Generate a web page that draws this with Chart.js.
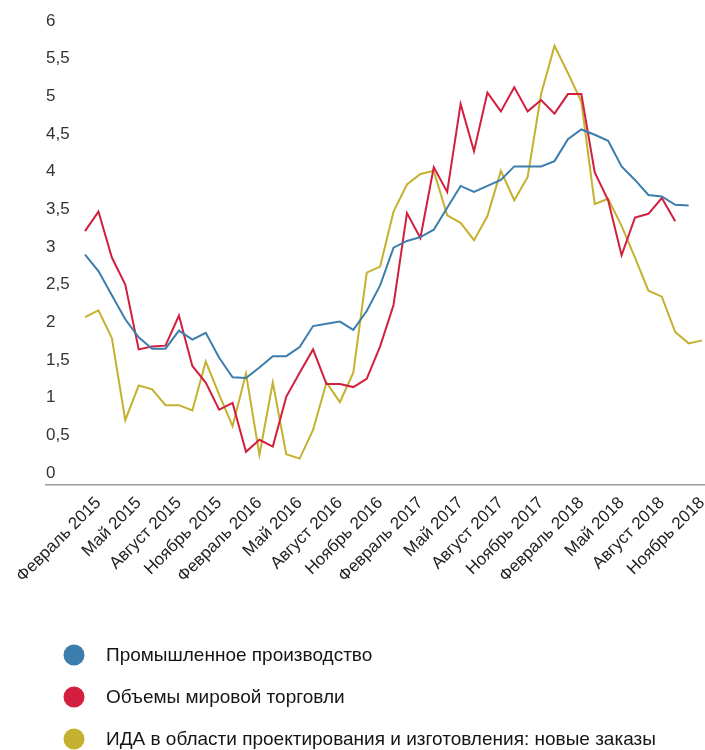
<!DOCTYPE html>
<html>
<head>
<meta charset="utf-8">
<script src="https://cdn.jsdelivr.net/npm/chart.js@4.4.1/dist/chart.umd.min.js"></script>
<style>
  html, body { margin: 0; padding: 0; background: #ffffff; }
  #wrap { position: relative; width: 705px; height: 750px; }
</style>
</head>
<body>
<div id="wrap"><canvas id="c" width="705" height="750"></canvas></div>
<script>
// ---- Data ----
const months = [
  'Январь 2015','Февраль 2015','Март 2015','Апрель 2015','Май 2015','Июнь 2015','Июль 2015','Август 2015','Сентябрь 2015','Октябрь 2015','Ноябрь 2015','Декабрь 2015',
  'Январь 2016','Февраль 2016','Март 2016','Апрель 2016','Май 2016','Июнь 2016','Июль 2016','Август 2016','Сентябрь 2016','Октябрь 2016','Ноябрь 2016','Декабрь 2016',
  'Январь 2017','Февраль 2017','Март 2017','Апрель 2017','Май 2017','Июнь 2017','Июль 2017','Август 2017','Сентябрь 2017','Октябрь 2017','Ноябрь 2017','Декабрь 2017',
  'Январь 2018','Февраль 2018','Март 2018','Апрель 2018','Май 2018','Июнь 2018','Июль 2018','Август 2018','Сентябрь 2018','Октябрь 2018','Ноябрь 2018'
];
const tickLabels = [
  'Февраль 2015','Май 2015','Август 2015','Ноябрь 2015',
  'Февраль 2016','Май 2016','Август 2016','Ноябрь 2016',
  'Февраль 2017','Май 2017','Август 2017','Ноябрь 2017',
  'Февраль 2018','Май 2018','Август 2018','Ноябрь 2018'
];
const yTicks = [0, 0.5, 1, 1.5, 2, 2.5, 3, 3.5, 4, 4.5, 5, 5.5, 6];

const seriesNames = [
  'Промышленное производство',
  'Объемы мировой торговли',
  'ИДА в области проектирования и изготовления: новые заказы'
];
const industrial = [2.90,2.68,2.36,2.04,1.80,1.65,1.65,1.89,1.77,1.86,1.53,1.27,
  1.26,1.40,1.55,1.55,1.67,1.95,1.98,2.01,1.90,2.15,2.49,2.99,
  3.08,3.13,3.23,3.52,3.81,3.73,3.81,3.89,4.07,4.07,4.07,4.14,
  4.43,4.56,4.49,4.41,4.07,3.89,3.69,3.67,3.56,3.55,null];
const trade = [3.21,3.47,2.86,2.50,1.64,1.68,1.69,2.09,1.42,1.20,0.84,0.93,
  0.28,0.44,0.35,1.01,1.33,1.64,1.18,1.18,1.14,1.25,1.68,2.23,
  3.45,3.12,4.06,3.73,4.90,4.27,5.05,4.80,5.12,4.80,4.95,4.77,
  5.03,5.03,3.99,3.62,2.89,3.39,3.44,3.65,3.34,null,null];
const orders = [2.07,2.16,1.79,0.70,1.16,1.11,0.90,0.90,0.83,1.48,1.04,0.62,
  1.32,0.24,1.20,0.25,0.19,0.57,1.20,0.94,1.33,2.66,2.74,3.47,
  3.83,3.97,4.01,3.42,3.32,3.09,3.41,4.01,3.62,3.93,5.03,5.67,
  5.31,4.93,3.57,3.64,3.28,2.86,2.42,2.34,1.87,1.72,1.76];

const colors = ['#3d7dab', '#d21f3f', '#c4b12f'];

// ---- Build ----
const toPoints = arr => arr.map((v, i) => ({ x: i, y: v }));
const tickIdx = tickLabels.map(l => months.indexOf(l));

const legendPlugin = {
  id: 'stackLegend',
  afterDraw(chart) {
    const ctx = chart.ctx;
    ctx.save();
    chart.data.datasets.forEach((ds, i) => {
      const cy = 655 + i * 42;
      ctx.beginPath();
      ctx.fillStyle = ds.borderColor;
      ctx.arc(74, cy, 10.5, 0, Math.PI * 2);
      ctx.fill();
      ctx.fillStyle = '#151515';
      ctx.font = '19px "Liberation Sans", Arial, sans-serif';
      ctx.textBaseline = 'middle';
      ctx.textAlign = 'left';
      ctx.fillText(ds.label, 106, cy + 1);
    });
    ctx.restore();
  }
};

const datasets = [industrial, trade, orders].map((arr, i) => ({
  label: seriesNames[i],
  data: toPoints(arr),
  borderColor: colors[i],
  backgroundColor: colors[i],
  borderWidth: 2,
  pointRadius: 0,
  tension: 0,
  spanGaps: false
}));

new Chart(document.getElementById('c'), {
  type: 'line',
  data: { datasets },
  plugins: [legendPlugin],
  options: {
    responsive: false,
    animation: false,
    devicePixelRatio: 1,
    layout: { padding: { left: 46, top: 21, right: 0, bottom: 0 } },
    plugins: { legend: { display: false }, tooltip: { enabled: false } },
    scales: {
      x: {
        type: 'linear',
        min: -2.91,
        max: 46.22,
        afterBuildTicks: s => { s.ticks = tickIdx.map(v => ({ value: v })); },
        afterFit: s => { s.height = 265; s.paddingLeft = 0; s.paddingRight = 0; },
        grid: { display: false, drawTicks: false },
        border: { display: true, color: '#999999', width: 1.5 },
        ticks: {
          autoSkip: false,
          minRotation: 45,
          maxRotation: 45,
          padding: 8,
          color: '#222222',
          font: { family: '"Liberation Sans", Arial, sans-serif', size: 17 },
          callback: v => months[v]
        }
      },
      y: {
        min: -0.16,
        max: 6,
        afterBuildTicks: s => { s.ticks = yTicks.map(v => ({ value: v })); },
        afterFit: s => { s.width = 0; s.paddingTop = 0; s.paddingBottom = 0; },
        grid: { display: false, drawTicks: false },
        border: { display: false },
        ticks: {
          mirror: true,
          padding: 0,
          crossAlign: 'near',
          color: '#333333',
          font: { family: '"Liberation Sans", Arial, sans-serif', size: 17 },
          callback: v => String(v).replace('.', ',')
        }
      }
    }
  }
});
</script>
</body>
</html>
